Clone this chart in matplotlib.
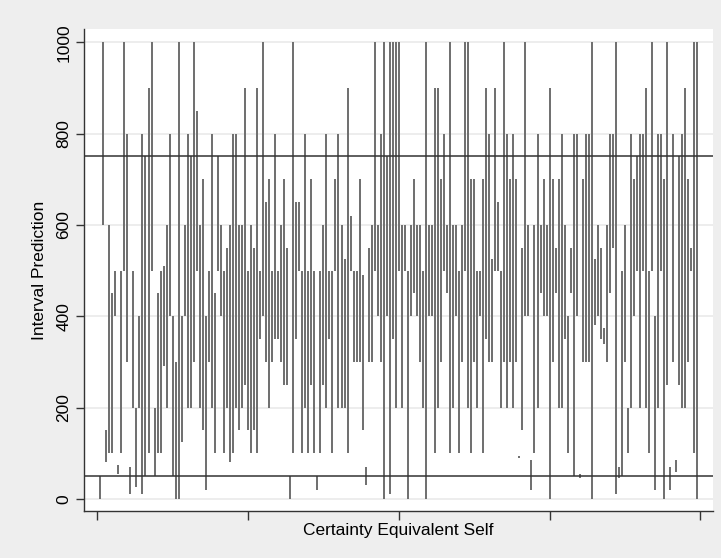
import numpy as np
import matplotlib
matplotlib.use("Agg")
import matplotlib.pyplot as plt

plt.rcParams['font.family'] = ['Liberation Sans', 'DejaVu Sans']

# interval predictions per observation (lower, upper), ordered by certainty equivalent
lo = [0, 600, 80, 100, 100, 400, 55, 100, 500, 300,
      10, 200, 25, 200, 10, 50, 100, 500, 50, 100,
      100, 290, 200, 400, 50, 0, 0, 125, 400, 200,
      200, 300, 500, 200, 150, 20, 300, 200, 100, 500,
      400, 100, 200, 80, 100, 200, 150, 200, 250, 150,
      100, 150, 100, 350, 400, 300, 200, 300, 350, 350,
      300, 250, 250, 0, 100, 350, 500, 100, 200, 100,
      250, 100, 20, 100, 250, 200, 350, 100, 500, 200,
      200, 200, 100, 500, 300, 300, 300, 150, 30, 300,
      300, 500, 400, 300, 0, 400, 10, 350, 200, 500,
      200, 500, 0, 400, 450, 400, 300, 200, 0, 400,
      400, 100, 200, 300, 500, 450, 100, 200, 400, 100,
      300, 500, 200, 100, 300, 200, 400, 100, 350, 300,
      300, 500, 500, 200, 300, 200, 300, 200, 300, 90,
      150, 400, 400, 20, 100, 200, 450, 400, 400, 0,
      300, 450, 200, 200, 350, 100, 450, 50, 400, 45,
      300, 300, 300, 0, 380, 400, 350, 340, 300, 450,
      550, 10, 45, 50, 300, 100, 200, 400, 500, 200,
      500, 200, 100, 500, 20, 200, 500, 0, 250, 20,
      300, 60, 250, 200, 200, 300, 500, 100, 0]
hi = [50, 1000, 150, 600, 450, 500, 75, 500, 1000, 800,
      70, 500, 200, 400, 800, 750, 900, 1000, 200, 450,
      500, 510, 600, 800, 400, 300, 1000, 400, 600, 800,
      750, 1000, 850, 600, 700, 400, 500, 800, 450, 750,
      600, 500, 550, 600, 800, 800, 600, 600, 900, 500,
      600, 550, 900, 500, 1000, 650, 700, 500, 800, 500,
      600, 700, 550, 50, 1000, 650, 650, 500, 800, 500,
      700, 500, 50, 500, 600, 800, 500, 500, 700, 800,
      600, 525, 900, 620, 500, 500, 700, 490, 70, 550,
      600, 1000, 600, 800, 1000, 750, 1000, 1000, 1000, 1000,
      600, 600, 500, 600, 700, 600, 600, 500, 1000, 600,
      600, 900, 900, 700, 800, 600, 1000, 600, 600, 500,
      600, 1000, 1000, 700, 700, 500, 500, 700, 900, 800,
      525, 900, 650, 500, 1000, 800, 700, 800, 700, 95,
      550, 1000, 600, 85, 600, 800, 600, 700, 600, 900,
      700, 550, 700, 800, 600, 400, 550, 800, 800, 55,
      700, 800, 800, 1000, 525, 600, 550, 375, 600, 800,
      800, 1000, 70, 500, 600, 200, 800, 700, 750, 800,
      800, 900, 500, 1000, 400, 800, 800, 700, 1000, 70,
      800, 85, 750, 800, 900, 700, 550, 1000, 1000]
ref_lines = [50, 750]
y_ticks = [0, 200, 400, 600, 800, 1000]
x_ticks = [0, 50, 100, 150, 200]

obs = np.arange(1, len(lo) + 1)

fig = plt.figure(figsize=(7.21, 5.58), dpi=100, facecolor='#eeeeee')
ax = fig.add_axes([0.1169, 0.0848, 0.8716, 0.8627])
ax.set_facecolor('white')

ax.vlines(obs, lo, hi, color='#6e6e6e', lw=1.4, zorder=2)
for v in ref_lines:
    ax.axhline(v, color='#333333', lw=1.1, zorder=3)

ax.set_xlim(-4.3, 204.1)
ax.set_ylim(-25.8, 1028.5)
ax.set_yticks(y_ticks)
ax.set_xticks(x_ticks)
ax.set_xticklabels([])
ax.yaxis.grid(True, color='#eaeaea', lw=1.2, zorder=0)
ax.set_axisbelow(True)

for s in ['top', 'right']:
    ax.spines[s].set_visible(False)
for s in ['left', 'bottom']:
    ax.spines[s].set_color('#333333')
    ax.spines[s].set_linewidth(1.0)

ax.tick_params(axis='y', length=5.5, width=1, color='#333333', pad=3.8,
               labelsize=12.5, labelrotation=90)
ax.tick_params(axis='x', length=6.2, width=1, color='#333333')
for t in ax.get_yticklabels():
    t.set_va('center')

fig.text(40 / 721, 1 - 270 / 558, 'Interval Prediction', rotation=90,
         ha='center', va='center', fontsize=12.5)
fig.text(398.5 / 721, 1 - 531 / 558, 'Certainty Equivalent Self',
         ha='center', va='center', fontsize=12.5)

fig.savefig('out.png', dpi=100, facecolor=fig.get_facecolor())
